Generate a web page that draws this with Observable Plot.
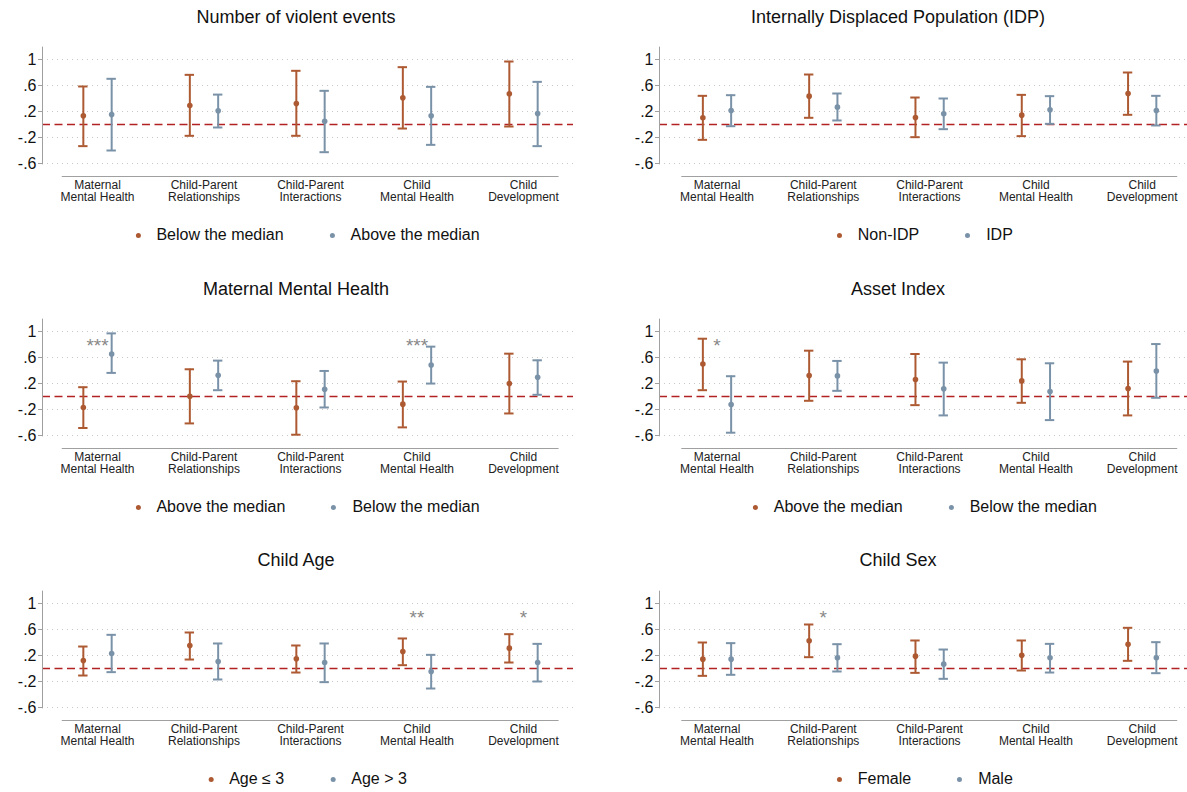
<!DOCTYPE html>
<html><head><meta charset="utf-8">
<script src="https://cdn.jsdelivr.net/npm/d3@7"></script>
<script src="https://cdn.jsdelivr.net/npm/@observablehq/plot@0.6"></script>
<style>
html,body{margin:0;padding:0;background:#fff;overflow:hidden}
#root{position:relative;width:1187px;height:792px;overflow:hidden;background:#fff;font-family:"Liberation Sans",Arial,sans-serif;}
.title{position:absolute;font-size:18px;color:#111;white-space:nowrap;transform:translate(-50%,-50%);line-height:1}
.legend{position:absolute;font-size:16px;color:#111;white-space:nowrap;transform:translate(-50%,-50%);display:flex;align-items:center;line-height:1}
.legend .item{display:flex;align-items:center}
.legend .item + .item{margin-left:46px}
.legend .sw{display:inline-block;width:5px;height:5px;border-radius:50%;margin-right:16px}
.panel{position:absolute}
.panel svg{max-width:none !important}
</style></head><body><div id="root"></div>
<script>
// ---------- data ----------
const outcomes = ["Maternal\nMental Health","Child-Parent\nRelationships","Child-Parent\nInteractions","Child\nMental Health","Child\nDevelopment"];
const yTicks = [1, 0.6, 0.2, -0.2, -0.6];
const panelTitles = ["Number of violent events","Internally Displaced Population (IDP)","Maternal Mental Health","Asset Index","Child Age","Child Sex"];
const seriesLabels = [
  ["Below the median","Above the median"],
  ["Non-IDP","IDP"],
  ["Above the median","Below the median"],
  ["Above the median","Below the median"],
  ["Age \u2264 3","Age > 3"],
  ["Female","Male"]
];
const seriesColors = ["#ad5a33","#7a92a8"];

// Panel 1: Number of violent events
const violentA_est = [0.133, 0.292, 0.323, 0.410, 0.472];
const violentA_lo  = [-0.333, -0.174, -0.174, -0.062, -0.031];
const violentA_hi  = [0.585, 0.764, 0.826, 0.882, 0.969];
const violentB_est = [0.154, 0.210, 0.051, 0.133, 0.169];
const violentB_lo  = [-0.400, -0.046, -0.426, -0.313, -0.333];
const violentB_hi  = [0.703, 0.460, 0.518, 0.579, 0.656];
// Panel 2: IDP
const idpA_est = [0.103, 0.436, 0.108, 0.144, 0.477];
const idpA_lo  = [-0.236, 0.103, -0.195, -0.179, 0.149];
const idpA_hi  = [0.441, 0.769, 0.415, 0.456, 0.800];
const idpB_est = [0.215, 0.267, 0.164, 0.226, 0.215];
const idpB_lo  = [-0.026, 0.062, -0.072, 0.010, -0.015];
const idpB_hi  = [0.451, 0.477, 0.400, 0.436, 0.441];
// Panel 3: Maternal Mental Health
const mmhA_est = [-0.169, 0.005, -0.174, -0.118, 0.199];
const mmhA_lo  = [-0.485, -0.414, -0.588, -0.475, -0.261];
const mmhA_hi  = [0.143, 0.419, 0.235, 0.230, 0.659];
const mmhB_est = [0.654, 0.327, 0.112, 0.485, 0.297];
const mmhB_lo  = [0.363, 0.097, -0.169, 0.199, 0.026];
const mmhB_hi  = [0.971, 0.552, 0.393, 0.767, 0.557];
// Panel 4: Asset Index
const assetA_est = [0.500, 0.322, 0.261, 0.240, 0.123];
const assetA_lo  = [0.097, -0.066, -0.133, -0.097, -0.291];
const assetA_hi  = [0.889, 0.705, 0.654, 0.572, 0.537];
const assetB_est = [-0.123, 0.317, 0.118, 0.077, 0.393];
const assetB_lo  = [-0.557, 0.087, -0.291, -0.363, -0.020];
const assetB_hi  = [0.312, 0.547, 0.521, 0.511, 0.807];
// Panel 5: Child Age
const ageA_est = [0.123, 0.354, 0.149, 0.262, 0.313];
const ageA_lo  = [-0.108, 0.138, -0.062, 0.051, 0.092];
const ageA_hi  = [0.338, 0.554, 0.354, 0.462, 0.528];
const ageB_est = [0.231, 0.108, 0.092, -0.046, 0.092];
const ageB_lo  = [-0.056, -0.169, -0.210, -0.308, -0.200];
const ageB_hi  = [0.518, 0.385, 0.385, 0.210, 0.379];
// Panel 6: Child Sex
const sexA_est = [0.144, 0.426, 0.190, 0.205, 0.374];
const sexA_lo  = [-0.113, 0.174, -0.067, -0.031, 0.118];
const sexA_hi  = [0.400, 0.677, 0.431, 0.431, 0.626];
const sexB_est = [0.144, 0.164, 0.067, 0.164, 0.164];
const sexB_lo  = [-0.097, -0.046, -0.159, -0.062, -0.072];
const sexB_hi  = [0.390, 0.374, 0.292, 0.379, 0.405];

// significance stars per panel
const stars = [
  [],
  [],
  [{cat: 1, label: "***"}, {cat: 4, label: "***"}],
  [{cat: 1, label: "*"}],
  [{cat: 4, label: "**"}, {cat: 5, label: "*"}],
  [{cat: 2, label: "*"}]
];

const panelData = [
  [[violentA_est, violentA_lo, violentA_hi], [violentB_est, violentB_lo, violentB_hi]],
  [[idpA_est, idpA_lo, idpA_hi], [idpB_est, idpB_lo, idpB_hi]],
  [[mmhA_est, mmhA_lo, mmhA_hi], [mmhB_est, mmhB_lo, mmhB_hi]],
  [[assetA_est, assetA_lo, assetA_hi], [assetB_est, assetB_lo, assetB_hi]],
  [[ageA_est, ageA_lo, ageA_hi], [ageB_est, ageB_lo, ageB_hi]],
  [[sexA_est, sexA_lo, sexA_hi], [sexB_est, sexB_lo, sexB_hi]]
];

// ---------- layout ----------
const columns = [
  {left: 0,   axisX: 42,  cat1: 97,    step: 106.5, right: 573,    titleX: 296},
  {left: 600, axisX: 659, cat1: 716.5, step: 106.3, right: 1190.6, titleX: 898}
];
const rows = [
  {svgTop: 41.3, titleY: 17,  legendY: 235},
  {svgTop: 313,  titleY: 289, legendY: 507},
  {svgTop: 584.7,titleY: 560, legendY: 779}
];
const seriesOffset = 0.133;
const capPx = 4.7;
const marginTop = 5, marginBottom = 36, frameH = 130;
const yDomain = [-0.8, 1.2];

const fmt = d => (d < 0 ? "-" : "") + String(Math.abs(d)).replace(/^0(?=\.)/, "");
const root = document.getElementById("root");

panelTitles.forEach((title, p) => {
  const col = columns[p % 2], row = rows[Math.floor(p / 2)];
  const labels = seriesLabels[p];
  const xDomain = [1 - (col.cat1 - col.axisX) / col.step, 1 + (col.right - col.cat1) / col.step];
  const cap = capPx / col.step;
  const data = [];
  panelData[p].forEach((s, si) => {
    s[0].forEach((est, i) => {
      data.push({x: i + 1 + (si === 0 ? -seriesOffset : seriesOffset), est, lo: s[1][i], hi: s[2][i], series: labels[si]});
    });
  });
  const width = Math.round(col.right - col.left + 16);
  const chart = Plot.plot({
    width,
    height: marginTop + frameH + marginBottom,
    marginLeft: col.axisX - col.left,
    marginRight: width - (col.right - col.left),
    marginTop, marginBottom,
    style: {fontFamily: "'Liberation Sans', Arial, sans-serif", background: "transparent", overflow: "visible", maxWidth: "none"},
    x: {type: "linear", domain: xDomain},
    y: {domain: yDomain},
    color: {domain: labels, range: seriesColors},
    marks: [
      Plot.gridY(yTicks, {stroke: "#c8c8c8", strokeOpacity: 1, strokeDasharray: "1,4"}),
      Plot.ruleY([0], {stroke: "#b22222", strokeWidth: 1.4, strokeDasharray: "8,4.5"}),
      Plot.ruleX([xDomain[0]], {y1: -0.62, y2: 1.19, stroke: "#a0a0a0"}),
      Plot.ruleY([yDomain[0]], {x1: 1 - 0.331, x2: 5 + 0.334, stroke: "#a0a0a0", strokeWidth: 1.2}),
      Plot.ruleX(data, {x: "x", y1: "lo", y2: "hi", stroke: "series", strokeWidth: 2}),
      Plot.ruleY(data, {y: "lo", x1: d => d.x - cap, x2: d => d.x + cap, stroke: "series", strokeWidth: 2}),
      Plot.ruleY(data, {y: "hi", x1: d => d.x - cap, x2: d => d.x + cap, stroke: "series", strokeWidth: 2}),
      Plot.dot(data, {x: "x", y: "est", fill: "series", r: 2.8}),
      Plot.text(stars[p], {x: "cat", y: () => 0.84, text: "label", fill: "#888", fontSize: 19, dy: 4}),
      Plot.axisY({ticks: yTicks, tickFormat: fmt, tickSize: 4, tickPadding: 2, fontSize: 16, stroke: "#a0a0a0", fill: "#111", label: null}),
      Plot.axisX({ticks: [1, 2, 3, 4, 5], tickFormat: i => outcomes[i - 1], tickSize: 0, tickPadding: 4, fontSize: 12, lineHeight: 1, fill: "#222", label: null})
    ]
  });
  const wrap = document.createElement("div");
  wrap.className = "panel";
  wrap.style.left = col.left + "px";
  wrap.style.top = row.svgTop + "px";
  wrap.style.width = width + "px";
  wrap.appendChild(chart);
  root.appendChild(wrap);

  const t = document.createElement("div");
  t.className = "title";
  t.textContent = title;
  t.style.left = col.titleX + "px";
  t.style.top = row.titleY + "px";
  root.appendChild(t);

  const lg = document.createElement("div");
  lg.className = "legend";
  lg.style.left = ((col.axisX + col.right) / 2) + "px";
  lg.style.top = row.legendY + "px";
  labels.forEach((lab, si) => {
    const it = document.createElement("span");
    it.className = "item";
    const sw = document.createElement("span");
    sw.className = "sw";
    sw.style.background = seriesColors[si];
    it.appendChild(sw);
    it.appendChild(document.createTextNode(lab));
    lg.appendChild(it);
  });
  root.appendChild(lg);
});
</script>
</body></html>
